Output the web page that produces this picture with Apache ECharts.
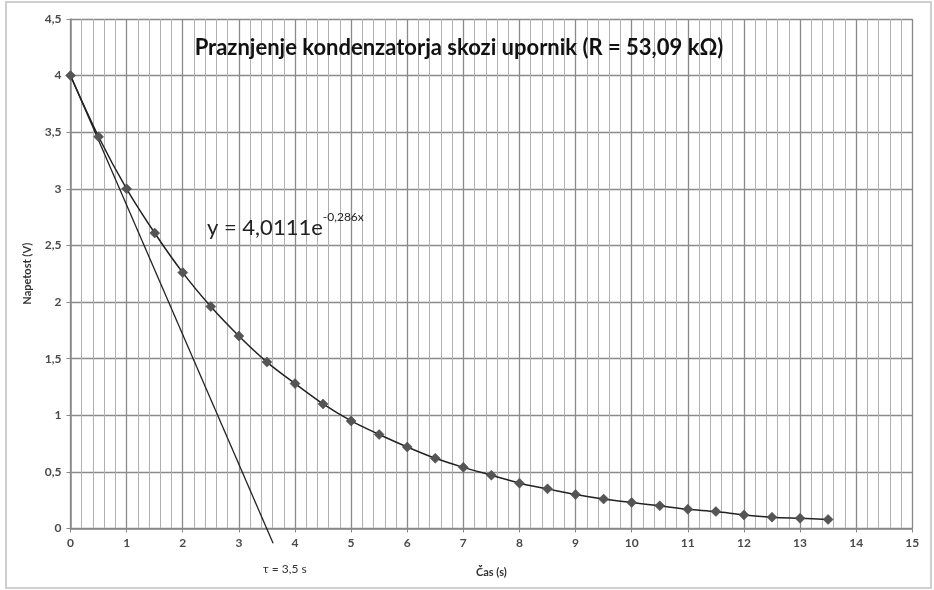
<!DOCTYPE html>
<html><head><meta charset="utf-8">
<script src="https://cdn.jsdelivr.net/npm/echarts@6/dist/echarts.min.js"></script>
<style>html,body{margin:0;padding:0;background:#fff}#c{width:934px;height:590px}</style>
</head><body><div id="c"></div>
<script>
const timeS = [0,0.5,1,1.5,2,2.5,3,3.5,4,4.5,5,5.5,6,6.5,7,7.5,8,8.5,9,9.5,10,10.5,11,11.5,12,12.5,13,13.5];
const voltage = [4.0,3.46,3.0,2.61,2.26,1.96,1.70,1.47,1.28,1.10,0.95,0.83,0.72,0.62,0.54,0.47,0.40,0.35,0.30,0.26,0.23,0.20,0.17,0.15,0.12,0.10,0.09,0.08];
const tangentX = [0, 3.61];
const tangentY = [4.0, -0.13];
const titleText = 'Praznjenje kondenzatorja skozi upornik (R = 53,09 kΩ)';
const tauText = 'τ = 3,5 s';
const xName = 'Čas (s)';
const yName = 'Napetost (V)';

const fmt = v => String(v).replace('.', ',');
const chart = echarts.init(document.getElementById('c'), null, {renderer:'canvas'});
chart.setOption({
  animation:false,
  backgroundColor:'#fff',
  grid:{left:70.5, right:21.7, top:19, bottom:61.5},
  graphic:[
    {type:'rect', shape:{x:6,y:2,width:925,height:586}, style:{fill:'none', stroke:'#cfcfcf', lineWidth:2}, z:-1},
    {type:'text', x:459, y:48, z:10, style:{text:titleText, font:'bold 22px Lato', fill:'#111', align:'center', verticalAlign:'middle'}},
    {type:'text', x:207, y:211, z:10, style:{
      text:'{a|y = 4,0111e}{b|-0,286x}',
      rich:{a:{fontFamily:'Lato', fontSize:22, fill:'#222', verticalAlign:'bottom', lineHeight:28},
            b:{fontFamily:'Lato', fontSize:12, fill:'#222', verticalAlign:'top', lineHeight:28, padding:[0,0,14,0]}}
    }}
  ],
  xAxis:{type:'value', min:0, max:15, interval:1,
    name:xName, nameLocation:'middle', nameGap:38,
    nameTextStyle:{fontFamily:'Lato', fontWeight:'bold', fontSize:11, color:'#333'},
    axisLine:{onZero:false, lineStyle:{color:'#888', width:1.5}},
    axisTick:{show:true, length:4, lineStyle:{color:'#888'}},
    axisLabel:{margin:9, color:'#4a4a4a', fontFamily:'Lato', fontWeight:'bold', fontSize:12, formatter:fmt},
    splitLine:{show:true, lineStyle:{color:'#8a8a8a', width:1.3}},
    minorTick:{show:false, splitNumber:5},
    minorSplitLine:{show:true, lineStyle:{color:'#b0b0b0', width:1}}
  },
  yAxis:{type:'value', min:0, max:4.5, interval:0.5,
    name:yName, nameLocation:'middle', nameGap:38, nameRotate:90,
    nameTextStyle:{fontFamily:'Lato', fontWeight:'bold', fontSize:11, color:'#333'},
    axisLine:{show:true, lineStyle:{color:'#888', width:1.5}},
    axisTick:{show:true, length:4, lineStyle:{color:'#888'}},
    axisLabel:{margin:9, color:'#4a4a4a', fontFamily:'Lato', fontWeight:'bold', fontSize:12, formatter:fmt},
    splitLine:{show:true, lineStyle:{color:'#8a8a8a', width:1.3}}
  },
  series:[
    {type:'line', data:timeS.map((t,i)=>[t,voltage[i]]), smooth:0.3,
     symbol:'diamond', symbolSize:10, showSymbol:true,
     itemStyle:{color:'#555', borderColor:'#444', borderWidth:0.5},
     lineStyle:{color:'#222', width:1.5}, z:5},
    {type:'line', data:tangentX.map((t,i)=>[t,tangentY[i]]), clip:false,
     symbol:'none', lineStyle:{color:'#222', width:1.3}, z:4,
     endLabel:{show:true, formatter:tauText, offset:[-18,26], fontFamily:'Lato', fontSize:12, color:'#333'}}
  ]
});
</script></body></html>
